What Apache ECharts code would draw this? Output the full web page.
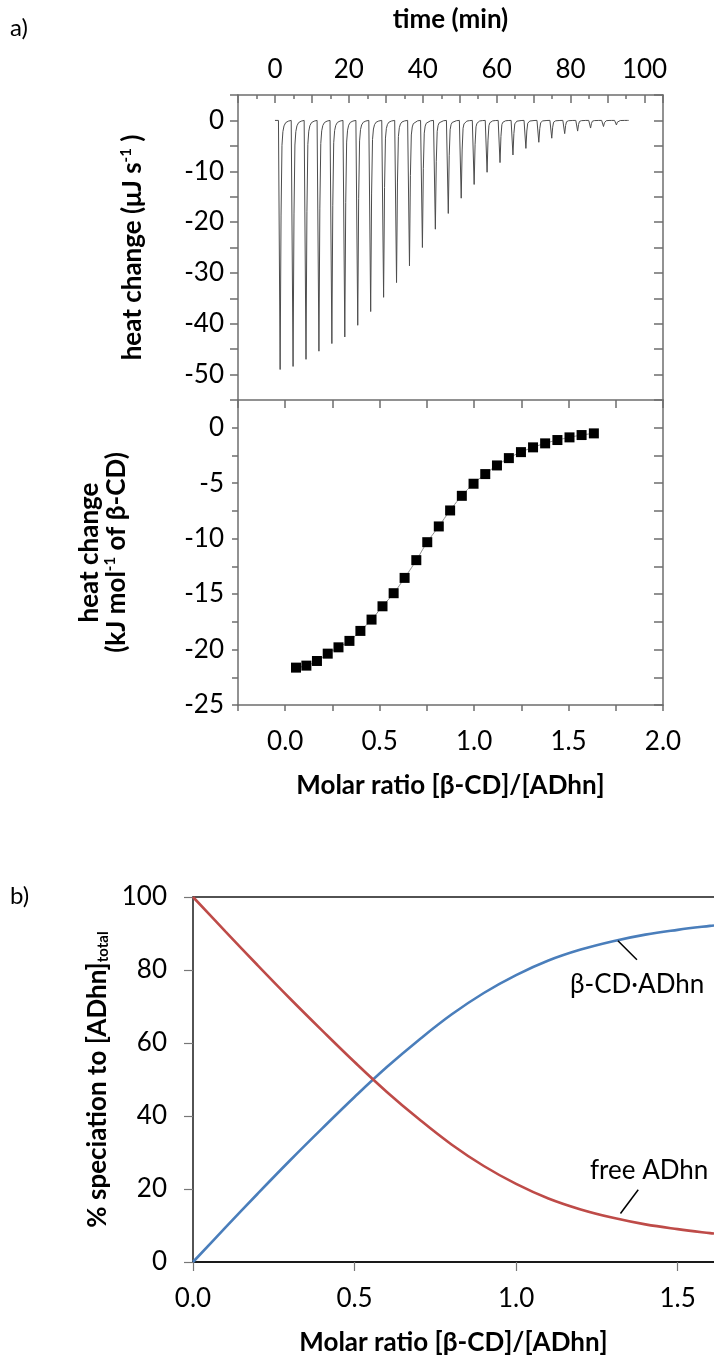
<!DOCTYPE html>
<html>
<head>
<meta charset="utf-8">
<title>ITC of β-CD / ADhn</title>
<script src="https://cdn.jsdelivr.net/npm/echarts@6/dist/echarts.min.js"></script>
<style>
  html, body { margin: 0; padding: 0; background: #fff; }
  #chart { width: 714px; height: 1360px; }
</style>
</head>
<body>
<div id="chart"></div>
<script>
// ---- a) raw thermogram: one exothermic pulse per injection ----
const injectionTime = [1.4, 4.9, 8.4, 11.9, 15.4, 18.9, 22.4, 25.9, 29.4, 32.9, 36.4, 39.9, 43.4, 46.9,
  50.4, 53.9, 57.4, 60.9, 64.4, 67.9, 71.4, 74.9, 78.4, 81.9, 85.4, 88.9, 92.4];
const peakHeat = [-49.0, -48.4, -47.0, -45.4, -43.9, -42.6, -40.3, -37.6, -34.8, -31.9, -28.6, -25.0,
  -21.4, -18.3, -15.3, -12.6, -10.2, -8.3, -6.8, -5.5, -4.3, -3.5, -2.6, -2.1, -1.5, -1.2, -0.9];
// pulse outline relative to its minimum: time offset (min) and fraction of the peak value
const pulseOffset = [-0.45, 0, 0.25, 0.5, 0.75, 1.05, 1.5, 2.2, 3.0];
const pulseFraction = [0, 1, 0.38, 0.1, 0.045, 0.022, 0.009, 0.003, 0];
const runEnd = 95.7;

// ---- a) integrated heats per injection ----
const molarRatio = [0.057, 0.112, 0.168, 0.225, 0.282, 0.340, 0.398, 0.457, 0.515, 0.574, 0.632, 0.694,
  0.752, 0.813, 0.873, 0.935, 0.997, 1.059, 1.121, 1.184, 1.248, 1.312, 1.376, 1.441, 1.505, 1.569, 1.634];
const injectionHeat = [-21.63, -21.45, -21.03, -20.37, -19.80, -19.22, -18.32, -17.30, -16.10, -14.92,
  -13.54, -11.94, -10.32, -8.90, -7.46, -6.14, -5.05, -4.18, -3.40, -2.74, -2.20, -1.77, -1.41, -1.11,
  -0.87, -0.66, -0.51];

// ---- b) speciation ----
const ratioB = [0, 0.1, 0.2, 0.3, 0.4, 0.5, 0.6, 0.7, 0.8, 0.9, 1.0, 1.1, 1.2, 1.3, 1.4, 1.5, 1.6, 1.6125];
const complexPct = [0, 9.4, 18.7, 27.8, 36.6, 45.2, 53.4, 60.9, 67.8, 73.7, 78.6, 82.6, 85.6, 87.9, 89.7, 91.0, 92.1, 92.2];
const freePct = [100, 90.6, 81.3, 72.2, 63.4, 54.8, 46.6, 39.1, 32.2, 26.3, 21.4, 17.4, 14.4, 12.1, 10.3, 9.0, 7.9, 7.8];

// tick label sets
const timeLabels = [0, 20, 40, 60, 80, 100];
const powerLabels = [0, -10, -20, -30, -40, -50];
const enthalpyLabels = [0, -5, -10, -15, -20, -25];
const ratioLabels = [0, 0.5, 1.0, 1.5, 2.0];

// build the thermogram trace
const trace = [[0, 0]];
injectionTime.forEach((t, i) => {
  pulseOffset.forEach((dt, k) => trace.push([t + dt, peakHeat[i] * pulseFraction[k]]));
});
trace.push([runEnd, 0]);

const near = (list, v) => list.some(x => Math.abs(x - v) < 1e-9);
const FONT = 'Lato';
const axisGray = '#6e6e6e';
const labelStyle = { color: '#000', fontSize: 26, fontFamily: FONT };
const titleStyle = {
  color: '#000', fontFamily: FONT,
  rich: {
    t: { fontSize: 26, fontWeight: 'bold', fontFamily: FONT, color: '#000' },
    s: { fontSize: 15, fontWeight: 'bold', fontFamily: FONT, color: '#000', verticalAlign: 'top', padding: [0, 0, 12, 0] },
    b: { fontSize: 15, fontWeight: 'bold', fontFamily: FONT, color: '#000', verticalAlign: 'bottom', padding: [10, 0, 0, 0] }
  }
};
const grayLine = { color: axisGray, width: 1.5 };
const grayAxisLine = { onZero: false, lineStyle: grayLine };

const chart = echarts.init(document.getElementById('chart'), null, { renderer: 'canvas' });

const option = {
  animation: false,
  backgroundColor: '#ffffff',
  textStyle: { fontFamily: FONT },
  grid: [
    { left: 238, top: 95, width: 425, height: 305 },
    { left: 238, top: 400, width: 425, height: 305 },
    { left: 193, top: 897, right: 0, height: 365 }
  ],
  xAxis: [
    { // time axis across the top of the thermogram
      type: 'value', gridIndex: 0, position: 'top', min: -10, max: 105, interval: 10,
      name: '{t|time (min)}', nameLocation: 'middle', nameGap: 62, nameTextStyle: titleStyle,
      axisLine: grayAxisLine,
      axisTick: { inside: true, length: 8, lineStyle: grayLine },
      minorTick: { show: true, splitNumber: 2, length: 4, lineStyle: grayLine },
      splitLine: { show: false },
      axisLabel: Object.assign({ margin: 12, formatter: v => near(timeLabels, v) ? String(v) : '' }, labelStyle)
    },
    { // molar ratio below the integrated heats
      type: 'value', gridIndex: 1, position: 'bottom', min: -0.25, max: 2.0, interval: 0.25,
      name: '{t|Molar ratio [β-CD]/[ADhn]}', nameLocation: 'middle', nameGap: 68, nameTextStyle: titleStyle,
      axisLine: grayAxisLine,
      axisTick: { inside: false, length: 6, lineStyle: grayLine },
      splitLine: { show: false },
      axisLabel: Object.assign({ margin: 24, showMaxLabel: true, formatter: v => near(ratioLabels, v) ? v.toFixed(1) : '' }, labelStyle)
    },
    { // shared border between the two panels
      type: 'value', gridIndex: 1, position: 'top', min: -0.25, max: 2.0, interval: 0.25,
      axisLine: grayAxisLine,
      axisTick: { inside: true, length: 8, lineStyle: grayLine },
      axisLabel: { show: false }, splitLine: { show: false }
    },
    { // b) molar ratio
      type: 'value', gridIndex: 2, position: 'bottom', min: 0, max: 1.6125, interval: 0.5,
      name: '{t|Molar ratio [β-CD]/[ADhn]}', nameLocation: 'middle', nameGap: 68, nameTextStyle: titleStyle,
      axisLine: { onZero: false, lineStyle: { color: '#1a1a1a', width: 2 } },
      axisTick: { inside: false, length: 9, lineStyle: { color: '#777', width: 1.2 } },
      splitLine: { show: false },
      axisLabel: Object.assign({ margin: 24, showMaxLabel: false, formatter: v => v.toFixed(1) }, labelStyle)
    },
    { // b) top frame line at 100 %
      type: 'value', gridIndex: 2, position: 'top', min: 0, max: 1.6125,
      axisLine: { onZero: false, lineStyle: { color: '#1a1a1a', width: 1.5 } },
      axisTick: { show: false }, axisLabel: { show: false }, splitLine: { show: false }
    }
  ],
  yAxis: [
    { // heat flow, left
      type: 'value', gridIndex: 0, position: 'left', min: -55, max: 5, interval: 5,
      name: '{t|heat change (μJ s}{s|-1}{t| )}', nameLocation: 'middle', nameRotate: 90, nameGap: 92,
      nameTextStyle: titleStyle,
      axisLine: grayAxisLine,
      axisTick: { inside: false, length: 8, lineStyle: grayLine },
      splitLine: { show: false },
      axisLabel: Object.assign({ margin: 14, formatter: v => near(powerLabels, v) ? String(v) : '' }, labelStyle)
    },
    { // heat flow, right frame
      type: 'value', gridIndex: 0, position: 'right', min: -55, max: 5, interval: 5,
      axisLine: grayAxisLine,
      axisTick: { inside: true, length: 9, lineStyle: grayLine },
      axisLabel: { show: false }, splitLine: { show: false }
    },
    { // integrated heat, left
      type: 'value', gridIndex: 1, position: 'left', min: -25, max: 2.5, interval: 2.5,
      name: '{t|heat change}\n{t|(kJ mol}{s|-1}{t| of β-CD)}', nameLocation: 'middle', nameRotate: 90, nameGap: 108,
      nameTextStyle: titleStyle,
      axisLine: grayAxisLine,
      axisTick: { inside: false, length: 6, lineStyle: grayLine },
      splitLine: { show: false },
      axisLabel: Object.assign({ margin: 14, formatter: v => near(enthalpyLabels, v) ? String(v) : '' }, labelStyle)
    },
    { // integrated heat, right frame
      type: 'value', gridIndex: 1, position: 'right', min: -25, max: 2.5, interval: 2.5,
      axisLine: grayAxisLine,
      axisTick: { inside: true, length: 9, lineStyle: grayLine },
      axisLabel: { show: false }, splitLine: { show: false }
    },
    { // b) percentage
      type: 'value', gridIndex: 2, position: 'left', min: 0, max: 100, interval: 20,
      name: '{t|% speciation to [ADhn]}{b|total}', nameLocation: 'middle', nameRotate: 90, nameGap: 80,
      nameTextStyle: titleStyle,
      axisLine: { onZero: false, lineStyle: { color: '#1a1a1a', width: 1.5 } },
      axisTick: { inside: false, length: 9, lineStyle: { color: '#777', width: 1.2 } },
      splitLine: { show: false },
      axisLabel: Object.assign({ margin: 26 }, labelStyle)
    }
  ],
  series: [
    {
      name: 'thermogram', type: 'line', xAxisIndex: 0, yAxisIndex: 0,
      data: trace, showSymbol: false, symbol: 'none', smooth: false,
      lineStyle: { color: '#4d4d4d', width: 1 }, z: 3
    },
    {
      name: 'integrated heat', type: 'line', xAxisIndex: 1, yAxisIndex: 2,
      data: molarRatio.map((r, i) => [r, injectionHeat[i]]),
      symbol: 'rect', symbolSize: 10, showSymbol: true,
      itemStyle: { color: '#000' },
      lineStyle: { color: '#8a8a8a', width: 1 }, smooth: true, z: 3
    },
    {
      name: 'β-CD·ADhn', type: 'line', xAxisIndex: 3, yAxisIndex: 4,
      data: ratioB.map((r, i) => [r, complexPct[i]]),
      showSymbol: false, symbol: 'none', smooth: 0.4,
      lineStyle: { color: '#4a7ebb', width: 2.6 },
      markLine: {
        silent: true, symbol: 'none', label: { show: false },
        lineStyle: { color: '#000', width: 1.5, type: 'solid' },
        data: [[{ coord: [1.315, 88.0] }, { coord: [1.374, 82.8] }]]
      }
    },
    {
      name: 'free ADhn', type: 'line', xAxisIndex: 3, yAxisIndex: 4,
      data: ratioB.map((r, i) => [r, freePct[i]]),
      showSymbol: false, symbol: 'none', smooth: 0.4,
      lineStyle: { color: '#be4b48', width: 2.6 },
      markLine: {
        silent: true, symbol: 'none', label: { show: false },
        lineStyle: { color: '#000', width: 1.5, type: 'solid' },
        data: [[{ coord: [1.323, 13.3] }, { coord: [1.378, 19.8] }]]
      }
    }
  ],
  graphic: [
    { type: 'text', left: 10, top: 16, style: { text: 'a)', fontSize: 24, fontFamily: FONT, fill: '#000' } },
    { type: 'text', left: 10, top: 884, style: { text: 'b)', fontSize: 24, fontFamily: FONT, fill: '#000' } },
    { type: 'text', left: 570, top: 972, style: { text: 'β-CD·ADhn', fontSize: 26, fontFamily: FONT, fill: '#000' } },
    { type: 'text', left: 590, top: 1158, style: { text: 'free ADhn', fontSize: 26, fontFamily: FONT, fill: '#000' } }
  ]
};

chart.setOption(option);
</script>
</body>
</html>
